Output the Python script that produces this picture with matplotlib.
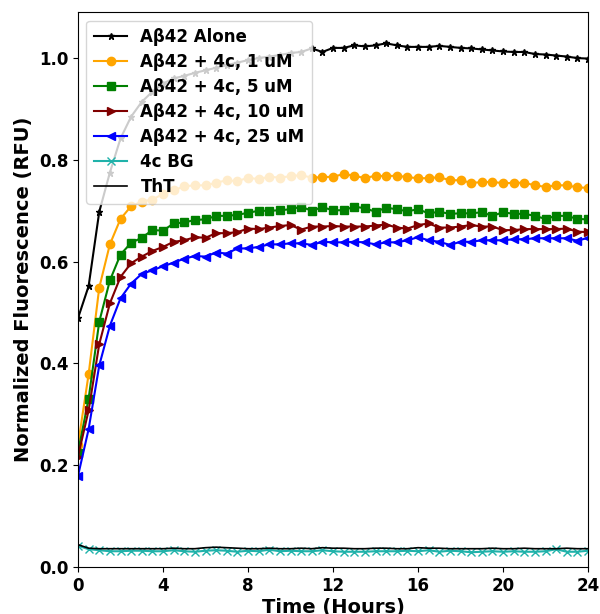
import matplotlib
matplotlib.use("Agg")
import matplotlib.pyplot as plt
import numpy as np

# time points, every half hour over 24 h
hours = np.arange(0, 24.5, 0.5)

alone = [0.489, 0.552, 0.698, 0.775, 0.842, 0.885, 0.914, 0.934, 0.950, 0.960,
         0.965, 0.971, 0.976, 0.981, 0.986, 0.991, 0.996, 1.000, 1.003, 1.006,
         1.010, 1.012, 1.019, 1.012, 1.020, 1.020, 1.025, 1.023, 1.025, 1.029,
         1.025, 1.022, 1.022, 1.022, 1.024, 1.022, 1.020, 1.019, 1.017, 1.015,
         1.013, 1.012, 1.012, 1.008, 1.007, 1.005, 1.003, 1.000, 0.999]
c4_1um = [0.240, 0.379, 0.549, 0.634, 0.684, 0.709, 0.718, 0.722, 0.733, 0.740,
          0.748, 0.750, 0.750, 0.755, 0.760, 0.758, 0.765, 0.762, 0.767, 0.765,
          0.768, 0.770, 0.765, 0.766, 0.767, 0.772, 0.769, 0.764, 0.769, 0.768,
          0.769, 0.766, 0.764, 0.764, 0.766, 0.760, 0.760, 0.755, 0.756, 0.757,
          0.754, 0.755, 0.755, 0.750, 0.747, 0.750, 0.750, 0.746, 0.745]
c4_5um = [0.225, 0.331, 0.482, 0.563, 0.614, 0.637, 0.647, 0.662, 0.661, 0.675,
          0.677, 0.682, 0.683, 0.690, 0.690, 0.692, 0.696, 0.700, 0.700, 0.701,
          0.703, 0.708, 0.700, 0.707, 0.701, 0.701, 0.708, 0.705, 0.698, 0.706,
          0.703, 0.699, 0.703, 0.695, 0.698, 0.694, 0.695, 0.695, 0.697, 0.690,
          0.697, 0.694, 0.694, 0.690, 0.684, 0.690, 0.690, 0.684, 0.683]
c4_10um = [0.217, 0.308, 0.438, 0.518, 0.570, 0.597, 0.610, 0.621, 0.629, 0.639,
           0.642, 0.648, 0.647, 0.656, 0.656, 0.658, 0.665, 0.664, 0.667, 0.670,
           0.672, 0.663, 0.669, 0.669, 0.670, 0.669, 0.669, 0.669, 0.671, 0.673,
           0.667, 0.665, 0.672, 0.675, 0.667, 0.667, 0.669, 0.672, 0.669, 0.669,
           0.662, 0.662, 0.664, 0.664, 0.664, 0.664, 0.665, 0.659, 0.658]
c4_25um = [0.179, 0.271, 0.396, 0.474, 0.528, 0.557, 0.576, 0.583, 0.591, 0.598,
           0.606, 0.611, 0.610, 0.618, 0.616, 0.626, 0.626, 0.629, 0.634, 0.634,
           0.636, 0.636, 0.633, 0.639, 0.638, 0.638, 0.639, 0.638, 0.634, 0.638,
           0.638, 0.642, 0.648, 0.642, 0.639, 0.633, 0.639, 0.639, 0.642, 0.642,
           0.642, 0.644, 0.644, 0.646, 0.646, 0.646, 0.646, 0.641, 0.647]
bg_4c = [0.042, 0.035, 0.033, 0.031, 0.031, 0.032, 0.032, 0.031, 0.031, 0.033,
         0.031, 0.030, 0.032, 0.033, 0.032, 0.030, 0.032, 0.031, 0.034, 0.031,
         0.032, 0.031, 0.031, 0.033, 0.031, 0.030, 0.030, 0.030, 0.031, 0.031,
         0.031, 0.032, 0.031, 0.033, 0.030, 0.032, 0.031, 0.029, 0.030, 0.031,
         0.030, 0.031, 0.030, 0.030, 0.031, 0.035, 0.030, 0.030, 0.032]
tht = [0.044, 0.037, 0.036, 0.036, 0.036, 0.036, 0.036, 0.036, 0.036, 0.037,
       0.036, 0.036, 0.038, 0.039, 0.038, 0.037, 0.036, 0.036, 0.037, 0.036,
       0.036, 0.037, 0.036, 0.038, 0.037, 0.037, 0.036, 0.036, 0.037, 0.037,
       0.036, 0.036, 0.038, 0.037, 0.037, 0.036, 0.036, 0.036, 0.036, 0.037,
       0.036, 0.036, 0.037, 0.036, 0.036, 0.036, 0.037, 0.036, 0.036]

plt.rcParams["font.weight"] = "bold"
plt.rcParams["axes.labelweight"] = "bold"

fig = plt.figure(figsize=(6.0, 6.14), dpi=100)
ax = fig.add_axes([0.13, 0.0765, 0.85, 0.9035])

ax.plot(hours, alone, color="black", marker="*", markersize=5, lw=1.5, label="Aβ42 Alone")
ax.plot(hours, c4_1um, color="orange", marker="o", markersize=6, lw=1.5, label="Aβ42 + 4c, 1 uM")
ax.plot(hours, c4_5um, color="green", marker="s", markersize=6, lw=1.5, label="Aβ42 + 4c, 5 uM")
ax.plot(hours, c4_10um, color="maroon", marker=">", markersize=6, lw=1.5, label="Aβ42 + 4c, 10 uM")
ax.plot(hours, c4_25um, color="blue", marker="<", markersize=6, lw=1.5, label="Aβ42 + 4c, 25 uM")
ax.plot(hours, bg_4c, color="lightseagreen", marker="x", markersize=6, lw=1.5, label="4c BG")
ax.plot(hours, tht, color="black", lw=1.2, label="ThT")

ax.set_xlim(0, 24)
ax.set_ylim(0, 1.09)
ax.set_xticks(range(0, 25, 4))
ax.set_yticks(np.arange(0, 1.01, 0.2))
ax.tick_params(labelsize=12)
ax.set_xlabel("Time (Hours)", fontsize=14, labelpad=2)
ax.set_ylabel("Normalized Fluorescence (RFU)", fontsize=14)

ax.legend(loc="upper left", prop={"weight": "bold", "size": 12},
          handlelength=2.0, borderpad=0.45, labelspacing=0.42)

fig.savefig("out.png", dpi=100)
